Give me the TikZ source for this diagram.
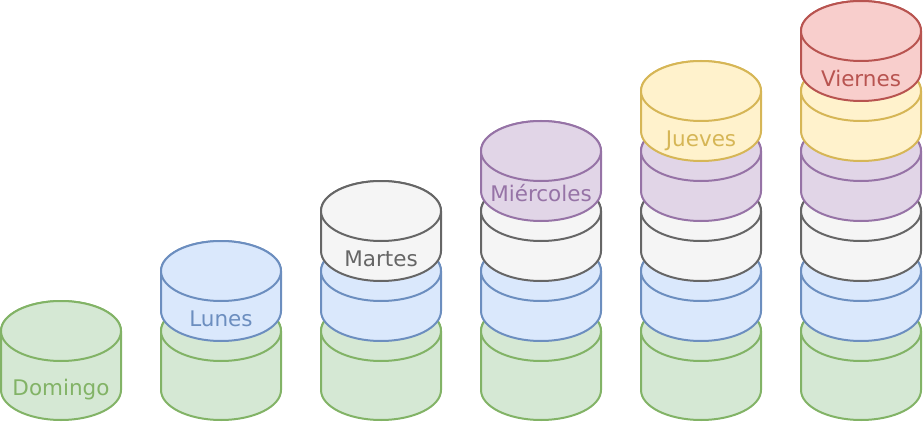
\documentclass[tikz,border=0pt]{standalone}
\usepackage{fontspec}
\usepackage{tikz}
\setmainfont{DejaVu Sans}

\definecolor{greenFill}{HTML}{D5E8D4}
\definecolor{greenLine}{HTML}{82B366}
\definecolor{blueFill}{HTML}{DAE8FC}
\definecolor{blueLine}{HTML}{6C8EBF}
\definecolor{grayFill}{HTML}{F5F5F5}
\definecolor{grayLine}{HTML}{666666}
\definecolor{purpleFill}{HTML}{E1D5E7}
\definecolor{purpleLine}{HTML}{9673A6}
\definecolor{yellowFill}{HTML}{FFF2CC}
\definecolor{yellowLine}{HTML}{D6B656}
\definecolor{redFill}{HTML}{F8CECC}
\definecolor{redLine}{HTML}{B85450}

\begin{document}
\begin{tikzpicture}[x=1pt, y=1pt,
                    disk/.style={line width=2pt, line join=round},
                    daylabel/.style={anchor=base, inner sep=0pt,
                                     font=\fontsize{21.5}{26}\selectfont}]
    %\draw[help lines, step=20] (0,0) grid (924,424);
    \useasboundingbox (0,0) rectangle (924,424);

   % one layer per day, stacked from the first column it appears in
   \foreach \k/\day/\col/\name/\yl in {0/Domingo/green/domingo/28.3,
                                       1/Lunes/blue/lunes/97.3,
                                       2/Martes/gray/martes/157.3,
                                       3/Miércoles/purple/miercoles/222.3,
                                       4/Jueves/yellow/jueves/277.8,
                                       5/Viernes/red/viernes/337.3}
   {
     \foreach \c in {\k,...,5}
     {
       \pgfmathsetmacro\xl{1+160*\c}
       \pgfmathsetmacro\yt{93+60*\k}
       \pgfmathsetmacro\yb{ifthenelse(\k==0,34,53+60*\k)}
       \draw[disk, draw=\col Line, fill=\col Fill]
            (\xl,\yt) -- (\xl,\yb)
            arc[start angle=180, end angle=360, x radius=60, y radius=30]
            -- (\xl+120,\yt)
            arc[start angle=0, end angle=180, x radius=60, y radius=30] -- cycle;
       \draw[disk, draw=\col Line, fill=\col Fill]
            (\xl+60,\yt) ellipse [x radius=60, y radius=30];
     }
     \node[daylabel, text=\col Line] (\name) at (61+160*\k,\yl) {\day};
   }

\end{tikzpicture}
\end{document}
